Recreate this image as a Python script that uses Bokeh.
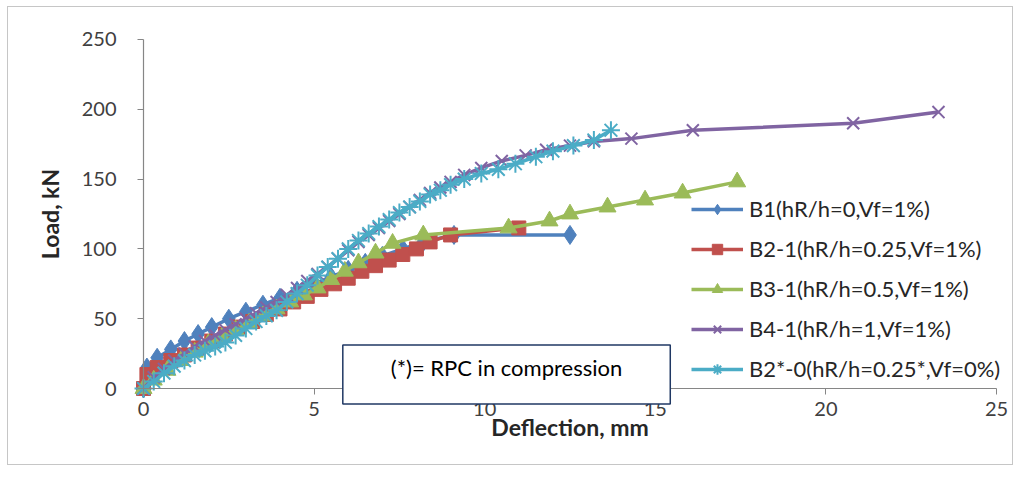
from bokeh.plotting import figure
from bokeh.models import Range1d, Legend, LegendItem, Label, ColumnDataSource
from bokeh.embed import file_html
from bokeh.resources import INLINE

# Load-deflection readings (deflection in mm, load in kN)
b1_defl = [0, 0.1, 0.4, 0.8, 1.2, 1.6, 2.0, 2.5, 3.0, 3.5, 4.0, 4.5, 5.0, 5.5, 6.0,
           6.5, 7.0, 7.6, 8.2, 9.1, 12.5]
b1_load = [0, 15, 22, 28, 34, 39, 44, 50, 55, 60, 65, 70, 75, 80, 85,
           90, 95, 100, 105, 110, 110]

b2_defl = [0, 0.1, 0.4, 0.8, 1.2, 1.6, 2.0, 2.4, 2.8, 3.2, 3.6, 4.0, 4.4, 4.8, 5.2,
           5.6, 6.0, 6.4, 6.8, 7.2, 7.6, 8.0, 8.4, 9.0, 11.0]
b2_load = [0, 10, 15, 20, 24, 29, 34, 39, 44, 48, 53, 57, 62, 66, 71,
           75, 79, 84, 88, 92, 96, 100, 105, 110, 115]

b3_defl = [0, 0.3, 0.7, 1.1, 1.5, 1.9, 2.3, 2.7, 3.1, 3.5, 3.9, 4.3, 4.7, 5.1, 5.5,
           5.9, 6.3, 6.8, 7.3, 8.2, 10.7, 11.9, 12.5, 13.6, 14.7, 15.8, 17.4]
b3_load = [0, 6, 13, 20, 26, 32, 37, 42, 47, 52, 57, 62, 67, 72, 78,
           84, 90, 97, 104, 110, 115, 120, 125, 130, 135, 140, 148]

b4_defl = [0, 0.3, 0.6, 0.9, 1.2, 1.5, 1.8, 2.1, 2.4, 2.7, 3.0, 3.3, 3.6, 3.9, 4.2,
           4.5, 4.8, 5.1, 5.4, 5.7, 6.0, 6.3, 6.6, 6.9, 7.2, 7.5, 7.8, 8.1, 8.4, 8.7,
           9.0, 9.4, 9.9, 10.5, 11.2, 11.8, 12.5, 13.2, 14.3, 16.1, 20.8, 23.3]
b4_load = [0, 8, 14, 20, 25, 30, 34, 38, 42, 46, 50, 54, 58, 62, 67,
           72, 77, 82, 87, 93, 99, 105, 110, 115, 120, 125, 130, 135, 140, 144,
           148, 153, 158, 163, 167, 171, 174, 177, 179, 185, 190, 198]

b2s_defl = [0, 0.3, 0.6, 0.9, 1.2, 1.5, 1.8, 2.1, 2.4, 2.7, 3.0, 3.3, 3.6, 3.9, 4.2,
            4.5, 4.8, 5.1, 5.4, 5.7, 6.0, 6.3, 6.6, 6.9, 7.2, 7.5, 7.8, 8.1, 8.4, 8.7,
            9.0, 9.4, 9.9, 10.4, 10.9, 11.5, 12.0, 12.6, 13.2, 13.7]
b2s_load = [0, 5, 11, 16, 20, 24, 27, 30, 33, 38, 43, 48, 52, 56, 62,
            68, 74, 81, 87, 93, 100, 106, 111, 116, 121, 126, 130, 134, 139, 142,
            146, 150, 154, 157, 161, 166, 170, 174, 178, 185]

labels = ["B1(hR/h=0,Vf=1%)", "B2-1(hR/h=0.25,Vf=1%)", "B3-1(hR/h=0.5,Vf=1%)",
          "B4-1(hR/h=1,Vf=1%)", "B2*-0(hR/h=0.25*,Vf=0%)"]
x_ticks = [0, 5, 10, 15, 20, 25]
y_ticks = [0, 50, 100, 150, 200, 250]

FONT = "Lato"
TEXT = "#404040"

# The frame fills the whole chart box; the axes sit at the data origin and are
# bounded to 0-25 mm and 0-250 kN, so marks and the note can spill past them.
p = figure(width=1006, height=459,
           x_range=Range1d(-3.957, 25.528), y_range=Range1d(-55.87, 272.92),
           output_backend="svg", toolbar_location=None,
           min_border_left=0, min_border_right=0, min_border_top=0,
           min_border_bottom=0, margin=(6, 0, 0, 7))
p.styles = {"border": "1px solid #c6c6c6"}
p.outline_line_color = None
p.grid.visible = False
p.background_fill_color = "white"
p.border_fill_color = "white"

for ax in (p.xaxis[0], p.yaxis[0]):
    ax.fixed_location = 0
    ax.axis_line_color = "#868686"
    ax.axis_line_width = 1.2
    ax.major_tick_line_color = "#868686"
    ax.major_tick_out = 6
    ax.major_tick_in = 0
    ax.minor_tick_line_color = None
    ax.major_label_text_font = FONT
    ax.major_label_text_font_size = "20px"
    ax.major_label_text_color = TEXT
    ax.axis_label_text_font = FONT
    ax.axis_label_text_font_size = "23px"
    ax.axis_label_text_font_style = "bold"
    ax.axis_label_text_color = "#262626"

p.xaxis.bounds = (0, 25)
p.yaxis.bounds = (0, 250)
p.xaxis.ticker = x_ticks
p.yaxis.ticker = y_ticks
p.xaxis.axis_label = "Deflection, mm"
p.yaxis.axis_label = "Load, kN"
p.xaxis.major_label_standoff = 7
p.yaxis.major_label_standoff = 21
p.xaxis.axis_label_standoff = -6
p.yaxis.axis_label_standoff = 15

series = [
    (b1_defl, b1_load, "#4F81BD", "diamond", 19, 1),
    (b2_defl, b2_load, "#C0504D", "square", 14, 1),
    (b3_defl, b3_load, "#9BBB59", "triangle", 17, 1),
    (b4_defl, b4_load, "#8064A2", "x", 17, 2),
    (b2s_defl, b2s_load, "#4BACC6", "asterisk", 18, 2),
]

items = []
for (xs, ys, color, marker, size, mlw), name in zip(series, labels):
    src = ColumnDataSource(dict(x=xs, y=ys))
    ln = p.line("x", "y", source=src, line_color=color, line_width=3.5)
    mk = p.scatter("x", "y", source=src, marker=marker, size=size,
                   fill_color=color, line_color=color, line_width=mlw)
    items.append(LegendItem(label=name, renderers=[ln, mk]))

legend = Legend(items=items, location=(683, 84), orientation="vertical",
                background_fill_alpha=0, border_line_color=None,
                label_text_font=FONT, label_text_font_size="22px",
                label_text_color="#262626", glyph_width=52, glyph_height=26,
                label_height=26, spacing=13, padding=0, margin=0,
                label_standoff=6)
p.add_layout(legend, "center")

note = Label(x=10.64, y=10.0, text="(*)= RPC in compression", text_align="center",
             text_baseline="middle", text_font=FONT, text_font_size="22px",
             text_color="black", border_line_color="#203864", border_line_width=1.5,
             background_fill_color="white", padding=(48, 48, 9, 23))
p.add_layout(note)

open("out.html", "w").write(file_html(p, INLINE))
